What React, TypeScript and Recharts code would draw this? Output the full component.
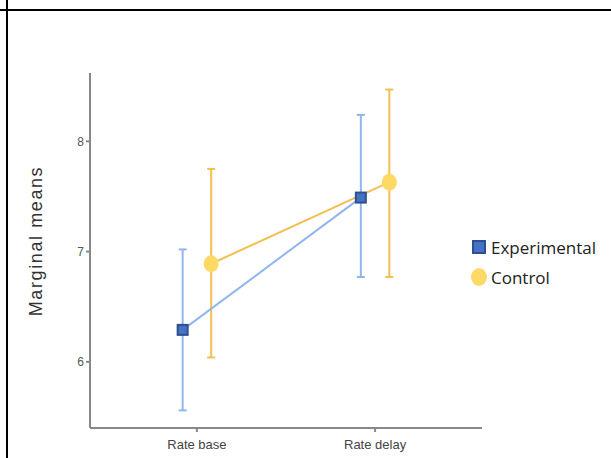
import React from 'react'
import { ComposedChart, Scatter, XAxis, YAxis, ErrorBar } from 'recharts'

// conditions on the x axis, placed at 1 and 2 on a numeric scale so the groups can be dodged
const conditions = ['Rate base', 'Rate delay']
const conditionPos = [1, 2]
const dodge = 0.08

const expMean = [6.29, 7.49]
const expLower = [5.56, 6.77]
const expUpper = [7.02, 8.24]

const ctlMean = [6.89, 7.63]
const ctlLower = [6.04, 6.77]
const ctlUpper = [7.75, 8.47]

const yTicks = [6, 7, 8]

const groups = [
  { name: 'Experimental', shape: 'square', fill: '#4472c4', stroke: '#2f4f8f', line: '#8fb6ee' },
  { name: 'Control', shape: 'circle', fill: '#ffd966', stroke: 'none', line: '#f2c050' },
]

const build = (mean: number[], lo: number[], hi: number[], shift: number) =>
  mean.map((m, i) => ({ x: conditionPos[i] + shift, y: m, err: [m - lo[i], hi[i] - m] }))

const expData = build(expMean, expLower, expUpper, -dodge)
const ctlData = build(ctlMean, ctlLower, ctlUpper, dodge)

const Square = (props: any) => {
  const { cx, cy } = props
  return <rect x={cx - 5} y={cy - 5} width={10} height={10} fill="#4472c4" stroke="#2f4f8f" strokeWidth={2} />
}

const Dot = (props: any) => {
  const { cx, cy } = props
  return <ellipse cx={cx} cy={cy} rx={7.5} ry={8.5} fill="#ffd966" />
}

const YTitle = () => (
  <text
    x={36}
    y={241}
    transform="rotate(-90, 36, 241)"
    textAnchor="middle"
    dominantBaseline="central"
    fontSize={18}
    letterSpacing={1.6}
    fill="#333"
    fontFamily="Liberation Sans, Arial, sans-serif"
  >
    Marginal means
  </text>
)

const LegendBox = () => (
  <div style={{ position: 'absolute', left: 470, top: 232, fontFamily: 'Open Sans, sans-serif', fontSize: 17, color: '#222' }}>
    {groups.map((g) => (
      <div key={g.name} style={{ display: 'flex', alignItems: 'center', height: 30 }}>
        <svg width={18} height={20} style={{ marginRight: 3 }}>
          {g.shape === 'square' ? (
            <rect x={3} y={4} width={12} height={12} fill={g.fill} stroke={g.stroke} strokeWidth={2} />
          ) : (
            <ellipse cx={9} cy={10} rx={8} ry={9} fill={g.fill} />
          )}
        </svg>
        <span>{g.name}</span>
      </div>
    ))}
  </div>
)

export default function App() {
  return (
    <div style={{ position: 'absolute', left: 0, top: 0, width: 611, height: 458, background: '#fff', overflow: 'hidden' }}>
      <div style={{ position: 'absolute', left: 6, top: 0, width: 2, height: 458, background: '#000' }} />
      <div style={{ position: 'absolute', left: 0, top: 9, width: 611, height: 2, background: '#000' }} />
      <ComposedChart
        width={611}
        height={458}
        margin={{ top: 73, right: 129, bottom: 0, left: 30 }}
        style={{ position: 'absolute', left: 0, top: 0, fontFamily: 'Liberation Sans, Arial, sans-serif' }}
      >
        <XAxis
          type="number"
          dataKey="x"
          domain={[0.4, 2.6]}
          ticks={conditionPos}
          tickFormatter={(v: number) => conditions[conditionPos.indexOf(v)]}
          height={30}
          stroke="#888"
          strokeWidth={2}
          tickSize={4}
          tick={{ fontSize: 13, fill: '#444', dy: 6 }}
          allowDataOverflow
        />
        <YAxis
          type="number"
          dataKey="y"
          domain={[5.4, 8.62]}
          ticks={yTicks}
          width={60}
          stroke="#888"
          strokeWidth={2}
          tickSize={4}
          tick={{ fontSize: 12, fill: '#555' }}
          allowDataOverflow
          label={<YTitle />}
        />
        <Scatter
          name="Control"
          data={ctlData}
          line={{ stroke: '#f2c050', strokeWidth: 2 }}
          lineType="joint"
          shape={Dot}
          isAnimationActive={false}
        >
          <ErrorBar dataKey="err" direction="y" width={4} stroke="#f2c050" strokeWidth={2} />
        </Scatter>
        <Scatter
          name="Experimental"
          data={expData}
          line={{ stroke: '#8fb6ee', strokeWidth: 2 }}
          lineType="joint"
          shape={Square}
          isAnimationActive={false}
        >
          <ErrorBar dataKey="err" direction="y" width={4} stroke="#8fb6ee" strokeWidth={2} />
        </Scatter>
      </ComposedChart>
      <LegendBox />
    </div>
  )
}
